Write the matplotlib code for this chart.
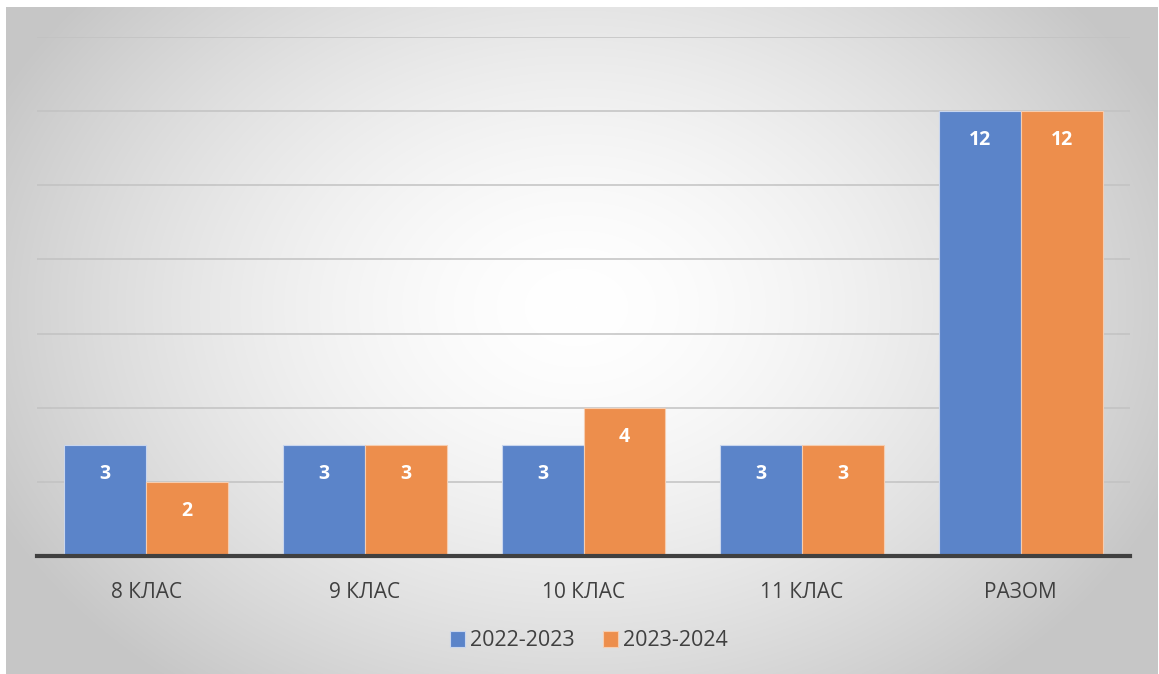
import matplotlib.pyplot as plt
import numpy as np

CATEGORIES = ['8 КЛАС', '9 КЛАС', '10 КЛАС', '11 КЛАС', 'РАЗОМ']
SERIES_NAMES = ['2022-2023', '2023-2024']
VALUES_2022 = [3, 3, 3, 3, 12]
VALUES_2023 = [2, 3, 4, 3, 12]

BLUE = '#5B84C9'
ORANGE = '#ED8E4C'
FONT = 'Open Sans'

W, H = 1159, 674


def main() -> None:
    fig = plt.figure(figsize=(W / 100, H / 100), dpi=100)

    # radial gradient background of the chart area
    bg = fig.add_axes([6 / W, 0, 1 - 7 / W, 1 - 7 / H])
    yy, xx = np.mgrid[0:667, 0:1152]
    cx, cy = 570, 300
    dx = (xx - cx) / 640
    dy = (yy - cy) / 480
    r = np.clip(np.sqrt(dx ** 2 + dy ** 2), 0, 1)
    shade = 1.0 - 0.22 * r ** 1.6
    bg.imshow(np.dstack([shade, shade, shade]), aspect='auto', interpolation='bilinear')
    bg.set_axis_off()

    ax = fig.add_axes([37 / W, 1 - 556 / H, (1130 - 37) / W, (556 - 37) / H])
    ax.set_facecolor('none')
    x = np.arange(len(CATEGORIES))
    width = 0.375
    b1 = ax.bar(x - width / 2, VALUES_2022, width, color=BLUE, edgecolor='#C9D6EE',
                linewidth=0.8, label=SERIES_NAMES[0], zorder=3)
    b2 = ax.bar(x + width / 2, VALUES_2023, width, color=ORANGE, edgecolor='#F6CDB0',
                linewidth=0.8, label=SERIES_NAMES[1], zorder=3)
    for bars in (b1, b2):
        ax.bar_label(bars, label_type='edge', padding=-28, color='white', fontsize=14,
                     fontweight='bold', family=FONT, zorder=4)

    ax.set_xlim(-0.5, len(CATEGORIES) - 0.5)
    ax.set_ylim(0, 14)
    ax.set_yticks(np.arange(2, 15, 2))
    ax.yaxis.grid(True, color='#C2C2C2', linewidth=1.1, zorder=1)
    ax.tick_params(axis='y', length=0, labelleft=False)
    ax.set_xticks(x)
    ax.set_xticklabels(CATEGORIES, fontsize=15, family=FONT, color='#404040')
    ax.tick_params(axis='x', length=0, pad=19)
    for side in ('top', 'right', 'left'):
        ax.spines[side].set_visible(False)
    ax.spines['bottom'].set_color('#404040')
    ax.spines['bottom'].set_linewidth(3)
    ax.spines['bottom'].set_zorder(5)

    fig.legend(handles=[b1, b2], loc='center', bbox_to_anchor=(589 / W, 1 - 641 / H),
               ncol=2, frameon=False, prop={'family': FONT, 'size': 15.5},
               handlelength=0.7, handleheight=0.7, handletextpad=0.25, columnspacing=1.3,
               labelcolor='#404040')

    fig.savefig('out.png', dpi=100)


if __name__ == '__main__':
    main()
